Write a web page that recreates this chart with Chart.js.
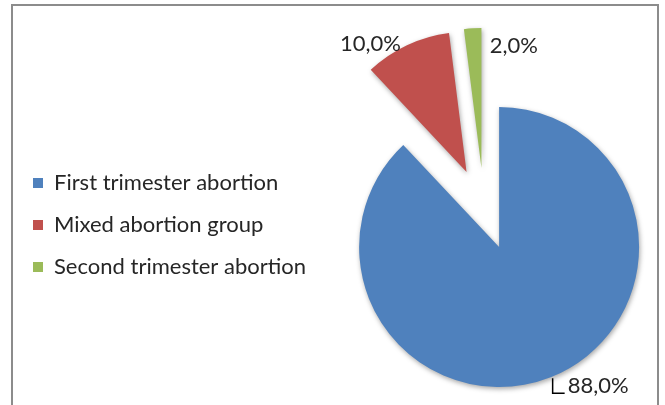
<!DOCTYPE html>
<html>
<head>
<meta charset="utf-8">
<script src="https://cdn.jsdelivr.net/npm/chart.js@4.4.1/dist/chart.umd.min.js"></script>
<style>
  html, body { margin: 0; padding: 0; background: #fff; }
  #wrap { position: relative; width: 665px; height: 405px; overflow: hidden; }
  #frame { position: absolute; left: 11px; top: 4px; width: 648px; height: 420px;
           border: 2px solid #8c8c8c; box-sizing: border-box; }
  #myChart { position: absolute; left: 0; top: 0; }
</style>
</head>
<body>
<div id="wrap">
  <div id="frame"></div>
  <canvas id="myChart" width="665" height="405"></canvas>
</div>
<script>
var categories = ["First trimester abortion", "Mixed abortion group", "Second trimester abortion"];
var percents = [88.0, 10.0, 2.0];
var sliceColors = ["#4f81bd", "#c0504d", "#9bbb59"];

// where each percent label sits relative to the outer middle of its slice
var labelPlace = [
  { dx: 17, dy: 9, align: "left", leader: true },
  { dx: -6, dy: -1, align: "right" },
  { dx: 17, dy: 18, align: "left" }
];

var explodePx = 41; // every slice is pulled out from the centre by this much

// draw the slices ourselves so each one can be moved out along its middle angle
var explodeSlices = {
  id: 'explodeSlices',
  beforeDatasetDraw: function(chart, args) {
    var c = chart.ctx;
    args.meta.data.forEach(function(arc) {
      var mid = (arc.startAngle + arc.endAngle) / 2;
      c.save();
      c.shadowColor = 'rgba(0,0,0,0.35)';
      c.shadowBlur = 5;
      c.shadowOffsetX = 1;
      c.shadowOffsetY = 2;
      c.translate(Math.cos(mid) * explodePx, Math.sin(mid) * explodePx);
      arc.draw(c);
      c.restore();
    });
    return false;
  }
};

var pctLabels = {
  id: 'pctLabels',
  afterDatasetsDraw: function(chart) {
    var c = chart.ctx;
    var meta = chart.getDatasetMeta(0);
    c.save();
    c.font = '22px Lato, "Open Sans", sans-serif';
    c.fillStyle = '#262626';
    c.textBaseline = 'middle';
    meta.data.forEach(function(arc, i) {
      var mid = (arc.startAngle + arc.endAngle) / 2;
      var r = arc.outerRadius + explodePx;
      var px = arc.x + Math.cos(mid) * r;
      var py = arc.y + Math.sin(mid) * r;
      var p = labelPlace[i];
      var txt = percents[i].toFixed(1).replace('.', ',') + '%';
      if (p.leader) {
        c.strokeStyle = '#000';
        c.lineWidth = 1.5;
        c.beginPath();
        c.moveTo(px + 2, py + 1);
        c.lineTo(px + 2, py + 16);
        c.lineTo(px + 14, py + 16);
        c.stroke();
      }
      c.textAlign = p.align;
      c.fillText(txt, px + p.dx, py + p.dy);
    });
    c.restore();
  }
};

var ctx = document.getElementById('myChart');
var myChart = new Chart(ctx, {
  type: 'pie',
  data: {
    labels: categories,
    datasets: [{
      data: percents,
      backgroundColor: sliceColors,
      borderWidth: 0,
      hoverOffset: 0
    }]
  },
  options: {
    responsive: false,
    animation: false,
    events: [],
    radius: 140,
    layout: { padding: { left: 13, right: 13, top: 13, bottom: 0 } },
    plugins: {
      tooltip: { enabled: false },
      legend: {
        position: 'left',
        title: { display: true, text: ' ', padding: { top: 0, bottom: 8 }, font: { size: 20 } },
        labels: {
          boxWidth: 10,
          boxHeight: 10,
          padding: 20,
          color: '#262626',
          font: { family: 'Lato, "Open Sans", sans-serif', size: 22 }
        }
      }
    }
  },
  plugins: [explodeSlices, pctLabels]
});
</script>
</body>
</html>
